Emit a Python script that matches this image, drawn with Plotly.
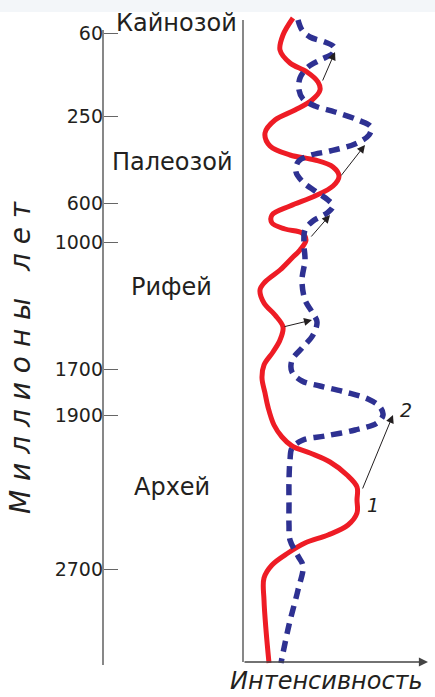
import plotly.graph_objects as go

# Vertical level (position along the time scale) and intensity values
age_ticks = [33, 116, 203, 242, 369, 415, 569]
age_labels = ["60", "250", "600", "1000", "1700", "1900", "2700"]

eras = ["Кайнозой", "Палеозой", "Рифей", "Архей"]
era_x = [-67, -71, -72, -71]
era_y = [23, 162, 287, 487]

red_level = [18, 35, 50, 63, 72, 82, 90, 100, 110, 120,
             133, 146, 155, 160, 167, 176, 186, 196, 206, 215,
             223, 229, 233, 240, 250, 258, 270, 282, 290, 303,
             315, 327, 340, 352, 365, 378, 393, 407, 425, 437,
             446, 453, 462, 475, 487, 500, 513, 525, 535, 543,
             553, 565, 578, 600, 630, 663]
red_int = [50, 40, 37, 47, 64, 75, 77, 69, 52, 32,
           22, 27, 47, 72, 90, 96, 90, 72, 47, 29,
           29, 42, 59, 63, 57, 49, 37, 22, 17, 21,
           32, 40, 37, 30, 21, 19, 22, 25, 31, 39,
           49, 67, 87, 104, 114, 114, 114, 105, 85, 62,
           45, 29, 21, 21, 23, 26]

blue_level = [20, 30, 37, 42, 47, 53, 60, 67, 78, 90,
              99, 106, 112, 120, 127, 135, 144, 151, 156, 162,
              172, 182, 191, 200, 206, 213, 221, 230, 245, 260,
              280, 300, 312, 322, 335, 348, 360, 372, 381, 386,
              392, 399, 407, 415, 423, 430, 436, 440, 448, 460,
              480, 505, 525, 540, 556, 566, 590, 625, 663]
blue_int = [55, 59, 67, 82, 91, 90, 77, 65, 57, 56,
            60, 72, 92, 115, 128, 126, 112, 87, 65, 55,
            53, 60, 72, 85, 90, 84, 70, 62, 61, 62,
            59, 62, 69, 74, 70, 59, 49, 49, 59, 77,
            102, 125, 137, 140, 134, 112, 82, 60, 49, 47,
            46, 46, 46, 47, 55, 60, 55, 46, 38]

# arrows: tail (red) -> head (blue)
arrow_tail_x = [79, 97, 67, 40, 119]
arrow_tail_y = [82, 177, 238, 327, 490]
arrow_head_x = [92, 122, 87, 69, 150]
arrow_head_y = [52, 145, 215, 320, 415]

RED = "#ee1c25"
BLUE = "#2e3192"
FONT = "DejaVu Sans"

fig = go.Figure()
fig.add_trace(go.Scatter(x=red_int, y=red_level, mode="lines",
                         line=dict(color=RED, width=5, shape="spline", smoothing=1),
                         hoverinfo="skip", showlegend=False))
fig.add_trace(go.Scatter(x=blue_int, y=blue_level, mode="lines",
                         line=dict(color=BLUE, width=5.5, shape="spline", smoothing=1,
                                   dash="11px,7px"),
                         hoverinfo="skip", showlegend=False))

shapes = [
    dict(type="rect", xref="paper", yref="paper", x0=0, x1=1, y0=1 - 12 / 697, y1=1,
         fillcolor="#f3f6f9", line_width=0, layer="below"),
    dict(type="line", xref="x", yref="y", x0=-140, x1=-140, y0=30, y1=665,
         line=dict(color="#555555", width=1.4)),
    dict(type="line", xref="x", yref="y", x0=0, x1=0, y0=20, y1=662,
         line=dict(color="#555555", width=1.4)),
]

annotations = []
for t, xx, yy in zip(eras, era_x, era_y):
    annotations.append(dict(x=xx, y=yy, xref="x", yref="y", text=t, showarrow=False,
                            font=dict(family=FONT, size=24, color="#231f20"),
                            xanchor="center", yanchor="middle"))
for tx, ty, hx, hy in zip(arrow_tail_x, arrow_tail_y, arrow_head_x, arrow_head_y):
    annotations.append(dict(x=hx, y=hy, ax=tx, ay=ty, xref="x", yref="y",
                            axref="x", ayref="y", text="", showarrow=True,
                            arrowhead=2, arrowsize=1.6, arrowwidth=1,
                            arrowcolor="#231f20", standoff=0))
# intensity axis arrow
annotations.append(dict(x=185, y=662, ax=0, ay=662, xref="x", yref="y",
                        axref="x", ayref="y", text="", showarrow=True,
                        arrowhead=2, arrowsize=1.3, arrowwidth=1.4,
                        arrowcolor="#444444", standoff=0))
annotations.append(dict(x=83, y=681, xref="x", yref="y", text="<i>Интенсивность</i>",
                        showarrow=False, font=dict(family=FONT, size=24, color="#231f20"),
                        xanchor="center", yanchor="middle", borderpad=0))
annotations.append(dict(x=130, y=505, xref="x", yref="y", text="<i>1</i>",
                        showarrow=False, font=dict(family=FONT, size=19, color="#231f20")))
annotations.append(dict(x=163, y=410, xref="x", yref="y", text="<i>2</i>",
                        showarrow=False, font=dict(family=FONT, size=19, color="#231f20")))
nb = "\u00a0"
title = nb.join("Миллионы") + nb * 3 + nb.join("лет")
annotations.append(dict(x=-223, y=358, xref="x", yref="y", text="<i>" + title + "</i>",
                        textangle=-90, showarrow=False,
                        font=dict(family=FONT, size=28, color="#231f20"),
                        xanchor="center", yanchor="middle"))

fig.update_layout(
    width=435, height=697,
    margin=dict(l=0, r=0, t=0, b=0),
    paper_bgcolor="white", plot_bgcolor="white",
    xaxis=dict(range=[-243, 192], visible=False, domain=[0, 1], fixedrange=True),
    yaxis=dict(range=[697, 0], anchor="free", position=103 / 435, domain=[0, 1],
               showline=False, showgrid=False, zeroline=False,
               ticks="inside", ticklen=14, tickwidth=1.3, tickcolor="#666666",
               tickvals=age_ticks, ticktext=age_labels,
               tickfont=dict(family=FONT, size=19, color="#231f20"),
               automargin=False, fixedrange=True),
    shapes=shapes, annotations=annotations,
    showlegend=False,
)

fig.write_html("out.html", config={"displayModeBar": False},
               post_script="document.body.style.margin='0px';document.body.style.overflow='hidden';")
